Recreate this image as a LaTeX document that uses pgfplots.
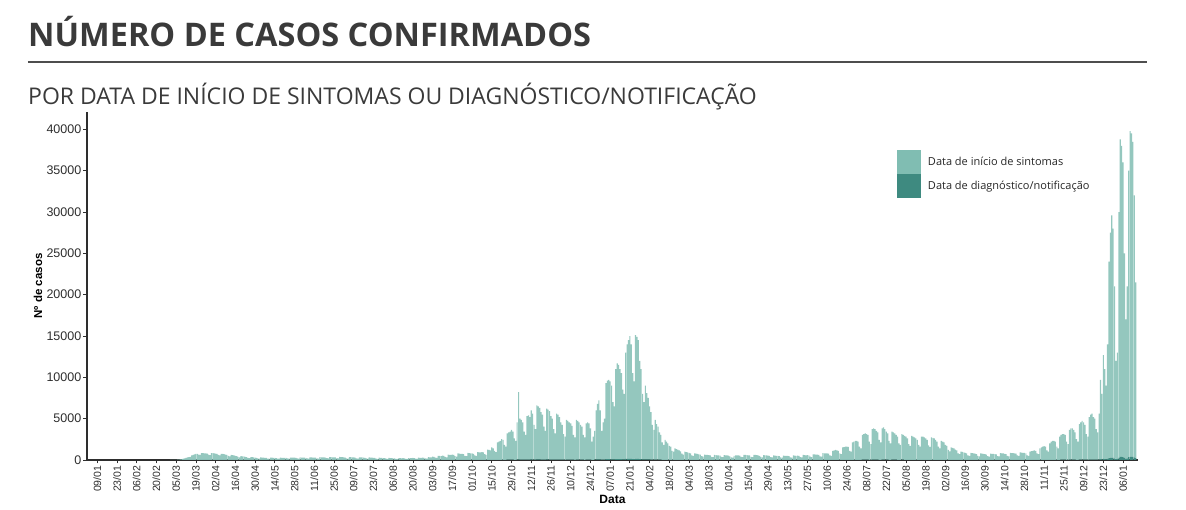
\documentclass[border=0pt]{standalone}
\usepackage{fontspec}
\setmainfont{Liberation Sans}
\newfontfamily\osfont{Open Sans}
\usepackage{pgfplots}
\usepackage{pgfplotstable}
\pgfplotsset{compat=1.18}
\definecolor{light}{HTML}{80BDB2}
\definecolor{barlight}{HTML}{94C7BE}
\definecolor{dark}{HTML}{3E8A80}
\definecolor{axc}{HTML}{2E2E2E}
\definecolor{ttl}{HTML}{3A3A3A}

\pgfplotstableread[row sep=\\]{
s\\
0\\0\\0\\0\\0\\0\\0\\
0\\0\\0\\0\\0\\0\\0\\
0\\0\\0\\0\\0\\0\\0\\
0\\0\\0\\0\\0\\0\\0\\
0\\0\\0\\0\\0\\0\\0\\
0\\0\\0\\0\\0\\0\\0\\
0\\0\\0\\0\\0\\0\\0\\
0\\0\\0\\2\\5\\8\\15\\
25\\40\\50\\60\\110\\150\\190\\
260\\320\\330\\380\\560\\620\\680\\
720\\740\\640\\600\\820\\830\\800\\
790\\760\\640\\590\\830\\810\\780\\
760\\720\\600\\550\\740\\720\\690\\
640\\600\\480\\430\\600\\580\\550\\
500\\470\\360\\320\\460\\440\\420\\
380\\350\\250\\220\\350\\330\\310\\
280\\240\\180\\160\\300\\290\\270\\
260\\240\\170\\150\\280\\270\\250\\
250\\230\\170\\150\\270\\260\\250\\
260\\240\\180\\160\\290\\280\\270\\
270\\250\\180\\160\\300\\290\\280\\
280\\260\\190\\170\\310\\300\\290\\
290\\270\\200\\170\\330\\320\\310\\
310\\290\\210\\180\\350\\340\\320\\
320\\300\\210\\180\\360\\340\\330\\
320\\290\\200\\170\\340\\330\\310\\
300\\280\\190\\160\\320\\310\\300\\
280\\260\\180\\150\\300\\290\\280\\
260\\240\\170\\140\\270\\260\\250\\
230\\210\\150\\130\\240\\230\\220\\
200\\190\\140\\120\\220\\210\\200\\
210\\200\\140\\120\\230\\220\\210\\
240\\220\\160\\140\\270\\260\\250\\
280\\260\\190\\160\\330\\320\\310\\
400\\380\\280\\250\\500\\480\\460\\
520\\500\\360\\320\\640\\620\\600\\
640\\620\\450\\400\\780\\760\\730\\
720\\690\\500\\450\\850\\830\\800\\
780\\740\\540\\480\\950\\920\\900\\
950\\900\\700\\620\\1250\\1200\\1150\\
1500\\1400\\1100\\950\\2100\\2200\\2300\\
2500\\2400\\1800\\1600\\3200\\3300\\3400\\
3600\\3400\\2600\\2300\\4500\\8118\\4950\\
4800\\4500\\3400\\3000\\5247\\5346\\5148\\
5940\\5544\\4200\\3700\\6534\\6435\\6237\\
5742\\5445\\4000\\3500\\6138\\6039\\5841\\
5247\\4950\\3700\\3200\\5544\\5445\\5148\\
4500\\4200\\3100\\2800\\4800\\4700\\4500\\
4400\\4100\\3000\\2700\\4800\\4700\\4500\\
4200\\4000\\3000\\2700\\4400\\4500\\4400\\
3800\\2200\\2800\\3500\\5940\\6732\\7128\\
5940\\3500\\4500\\4950\\9207\\9504\\9603\\
9405\\8910\\6930\\6435\\10890\\11583\\11385\\
10890\\10395\\8415\\7920\\12870\\13860\\14355\\
14850\\13860\\10395\\9405\\14949\\14751\\14355\\
11880\\10890\\7920\\6930\\8910\\8019\\7425\\
6435\\5742\\4200\\3600\\4800\\4300\\4000\\
3300\\3000\\2100\\1800\\2400\\2200\\2000\\
1700\\1600\\1100\\1000\\1400\\1300\\1240\\
1140\\1040\\750\\650\\1000\\940\\900\\
850\\800\\550\\480\\800\\760\\720\\
680\\640\\450\\400\\650\\620\\600\\
580\\550\\380\\340\\600\\580\\560\\
560\\530\\370\\330\\580\\560\\540\\
520\\430\\300\\280\\500\\560\\560\\
560\\530\\380\\340\\620\\600\\580\\
560\\540\\380\\340\\620\\600\\580\\
540\\500\\360\\320\\580\\560\\540\\
520\\480\\340\\300\\540\\520\\500\\
480\\450\\320\\290\\520\\500\\480\\
480\\450\\320\\290\\540\\520\\500\\
520\\490\\350\\310\\600\\580\\560\\
580\\550\\390\\350\\680\\660\\640\\
650\\620\\440\\400\\820\\800\\780\\
800\\760\\540\\480\\1100\\1150\\1200\\
1150\\1100\\800\\700\\1500\\1550\\1600\\
1600\\1560\\1100\\1000\\2100\\2200\\2300\\
2300\\2200\\1600\\1400\\3000\\3100\\3200\\
3100\\3000\\2200\\1900\\3700\\3800\\3700\\
3500\\3300\\2400\\2100\\3800\\3900\\3700\\
3400\\3200\\2300\\2000\\3400\\3300\\3200\\
3000\\2800\\2000\\1800\\3100\\3000\\2900\\
2800\\2600\\1900\\1700\\2900\\2800\\2700\\
2600\\2400\\1800\\1600\\2800\\2800\\2700\\
2600\\2400\\1760\\1560\\2700\\2660\\2600\\
2400\\2200\\1600\\1400\\2300\\2200\\2100\\
1800\\1700\\1200\\1040\\1500\\1440\\1400\\
1240\\1160\\800\\700\\1000\\960\\900\\
850\\800\\560\\500\\850\\820\\800\\
750\\700\\500\\440\\780\\760\\740\\
700\\650\\460\\410\\760\\740\\720\\
700\\660\\470\\420\\820\\800\\780\\
740\\700\\500\\440\\850\\830\\820\\
800\\760\\540\\480\\900\\880\\860\\
850\\800\\560\\500\\1000\\1050\\1100\\
1160\\1100\\800\\700\\1400\\1500\\1600\\
1660\\1600\\1160\\1000\\2000\\2200\\2300\\
2300\\2200\\1600\\1400\\2800\\3000\\3100\\
3100\\3000\\2200\\1900\\3600\\3800\\3800\\
3600\\3300\\2500\\2200\\4300\\4500\\4700\\
4500\\4200\\3100\\2800\\5148\\5445\\5544\\
5148\\4950\\3700\\3300\\5544\\9603\\7920\\
12573\\10890\\8910\\13860\\23760\\27225\\29304\\
27720\\20790\\11880\\12870\\29700\\38412\\37620\\
35640\\24750\\16830\\20790\\34650\\39402\\39105\\
38115\\31680\\21285\\
}\sdata

\pgfplotstableread[row sep=\\]{
d\\
0\\0\\0\\0\\0\\0\\0\\
0\\0\\0\\0\\0\\0\\0\\
0\\0\\0\\0\\0\\0\\0\\
0\\0\\0\\0\\0\\0\\0\\
0\\0\\0\\0\\0\\0\\0\\
0\\0\\0\\0\\0\\0\\0\\
0\\0\\0\\0\\0\\0\\0\\
0\\0\\0\\0\\0\\0\\0\\
0\\0\\0\\1\\1\\2\\2\\
3\\3\\3\\4\\6\\6\\7\\
7\\7\\6\\6\\8\\8\\8\\
8\\8\\6\\6\\8\\8\\8\\
8\\7\\6\\6\\7\\7\\7\\
6\\6\\5\\4\\6\\6\\6\\
5\\5\\4\\3\\5\\4\\4\\
4\\4\\3\\2\\4\\3\\3\\
3\\2\\2\\2\\3\\3\\3\\
3\\2\\2\\2\\3\\3\\3\\
3\\2\\2\\2\\3\\3\\3\\
3\\2\\2\\2\\3\\3\\3\\
3\\3\\2\\2\\3\\3\\3\\
3\\3\\2\\2\\3\\3\\3\\
3\\3\\2\\2\\3\\3\\3\\
3\\3\\2\\2\\4\\3\\3\\
3\\3\\2\\2\\4\\3\\3\\
3\\3\\2\\2\\3\\3\\3\\
3\\3\\2\\2\\3\\3\\3\\
3\\3\\2\\2\\3\\3\\3\\
3\\2\\2\\1\\3\\3\\3\\
2\\2\\2\\1\\2\\2\\2\\
2\\2\\1\\1\\2\\2\\2\\
2\\2\\1\\1\\2\\2\\2\\
2\\2\\2\\1\\3\\3\\3\\
3\\3\\2\\2\\3\\3\\3\\
4\\4\\3\\3\\5\\5\\5\\
5\\5\\4\\3\\6\\6\\6\\
6\\6\\5\\4\\8\\8\\7\\
7\\7\\5\\5\\9\\8\\8\\
8\\7\\5\\5\\10\\9\\9\\
10\\9\\7\\6\\13\\12\\12\\
15\\14\\11\\10\\21\\22\\23\\
25\\24\\18\\16\\32\\33\\34\\
36\\34\\26\\23\\45\\82\\50\\
48\\45\\34\\30\\53\\54\\52\\
60\\56\\42\\37\\66\\65\\63\\
58\\55\\40\\35\\62\\61\\59\\
53\\50\\37\\32\\56\\55\\52\\
45\\42\\31\\28\\48\\47\\45\\
44\\41\\30\\27\\48\\47\\45\\
42\\40\\30\\27\\44\\45\\44\\
38\\22\\28\\35\\60\\68\\72\\
60\\35\\45\\50\\93\\96\\97\\
95\\90\\70\\65\\110\\117\\115\\
110\\105\\85\\80\\130\\140\\145\\
150\\140\\105\\95\\151\\149\\145\\
120\\110\\80\\70\\90\\81\\75\\
65\\58\\42\\36\\48\\43\\40\\
33\\30\\21\\18\\24\\22\\20\\
17\\16\\11\\10\\14\\13\\12\\
11\\10\\8\\7\\10\\9\\9\\
9\\8\\6\\5\\8\\8\\7\\
7\\6\\5\\4\\7\\6\\6\\
6\\6\\4\\3\\6\\6\\6\\
6\\5\\4\\3\\6\\6\\5\\
5\\4\\3\\3\\5\\6\\6\\
6\\5\\4\\3\\6\\6\\6\\
6\\5\\4\\3\\6\\6\\6\\
5\\5\\4\\3\\6\\6\\5\\
5\\5\\3\\3\\5\\5\\5\\
5\\5\\3\\3\\5\\5\\5\\
5\\5\\3\\3\\5\\5\\5\\
5\\5\\4\\3\\6\\6\\6\\
6\\6\\4\\4\\7\\7\\6\\
7\\6\\4\\4\\8\\8\\8\\
8\\8\\5\\5\\11\\12\\12\\
12\\11\\8\\7\\15\\16\\16\\
16\\16\\11\\10\\21\\22\\23\\
23\\22\\16\\14\\30\\31\\32\\
31\\30\\22\\19\\37\\38\\37\\
35\\33\\24\\21\\38\\39\\37\\
34\\32\\23\\20\\34\\33\\32\\
30\\28\\20\\18\\31\\30\\29\\
28\\26\\19\\17\\29\\28\\27\\
26\\24\\18\\16\\28\\28\\27\\
26\\24\\18\\16\\27\\27\\26\\
24\\22\\16\\14\\23\\22\\21\\
18\\17\\12\\10\\15\\14\\14\\
12\\12\\8\\7\\10\\10\\9\\
9\\8\\6\\5\\9\\8\\8\\
8\\7\\5\\4\\8\\8\\7\\
7\\7\\5\\4\\8\\7\\7\\
7\\7\\5\\4\\8\\8\\8\\
7\\7\\5\\4\\9\\8\\8\\
8\\8\\5\\5\\9\\9\\9\\
9\\8\\6\\5\\10\\11\\11\\
12\\11\\8\\7\\14\\15\\16\\
17\\16\\12\\10\\20\\22\\23\\
23\\22\\16\\14\\28\\30\\31\\
31\\30\\22\\19\\36\\38\\38\\
36\\33\\25\\22\\43\\45\\47\\
45\\42\\31\\28\\52\\55\\56\\
52\\50\\37\\33\\56\\97\\80\\
127\\110\\90\\140\\240\\275\\296\\
280\\210\\120\\130\\300\\388\\380\\
360\\250\\170\\210\\350\\398\\395\\
385\\320\\215\\
}\ddata

\begin{document}
\begin{tikzpicture}
\useasboundingbox (-87pt,-50pt) rectangle (1099pt,460pt);
\node[anchor=base west, inner sep=0pt, text=ttl, font=\osfont\bfseries\fontsize{32.5}{32.5}\selectfont] at (-59pt,413pt) {NÚMERO DE CASOS CONFIRMADOS};
\draw[line width=2pt, draw=ttl!90] (-59pt,398pt) -- (1060pt,398pt);
\node[anchor=base west, inner sep=0pt, text=ttl, font=\osfont\fontsize{23}{23}\selectfont] at (-59pt,355pt) {POR DATA DE INÍCIO DE SINTOMAS OU DIAGNÓSTICO/NOTIFICAÇÃO};
\begin{axis}[
  name=ax, at={(0pt,0pt)}, anchor=south west,
  scale only axis, width=1051pt, height=348pt,
  xmin=-7.3, xmax=738.6, ymin=0, ymax=42100,
  ybar stacked, bar width=0.8,
  axis x line*=bottom, axis y line*=left,
  axis line style={draw=axc, line width=1.1pt},
  tick align=outside, major tick length=3.5pt,
  tick style={draw=axc, line width=0.8pt},
  scaled y ticks=false,
  ytick={0,5000,...,40000},
  xtick={0,14,...,728},
  xticklabels={09/01,23/01,06/02,20/02,05/03,19/03,02/04,16/04,30/04,14/05,28/05,11/06,25/06,09/07,23/07,06/08,20/08,03/09,17/09,01/10,15/10,29/10,12/11,26/11,10/12,24/12,07/01,21/01,04/02,18/02,04/03,18/03,01/04,15/04,29/04,13/05,27/05,10/06,24/06,08/07,22/07,05/08,19/08,02/09,16/09,30/09,14/10,28/10,11/11,25/11,09/12,23/12,06/01},
  x tick label style={rotate=90, anchor=east, font=\fontsize{10.5}{11}\selectfont, text=axc, inner sep=2pt},
  y tick label style={font=\fontsize{12.5}{13}\selectfont, text=axc, inner sep=2pt},
  /pgf/number format/1000 sep={},
  /pgf/number format/assume math mode=true,
  xlabel={Data}, ylabel={Nº de casos},
  xlabel style={font=\bfseries\fontsize{12}{12}\selectfont, text=black, inner sep=1pt},
  ylabel style={font=\bfseries\fontsize{11.5}{12}\selectfont, text=black, inner sep=2pt},
  reverse legend,
  legend cell align=left,
  legend style={at={(rel axis cs:0.7707,0.8908)}, anchor=north west, draw=none, fill=none,
    inner sep=0pt, outer sep=0pt, row sep=0pt,
    font=\osfont\fontsize{11}{12}\selectfont, text=black!85,
    nodes={inner sep=0pt, outer sep=0pt},
    /tikz/every odd column/.append style={column sep=7pt}},
]
\addplot[fill=dark, draw=none, legend image code/.code={\fill[dark] (0pt,-12pt) rectangle (24pt,12pt);}] table[x expr=\coordindex, y=d] {\ddata};
\addlegendentry{Data de diagnóstico/notificação}
\addplot[fill=barlight, draw=none, legend image code/.code={\fill[light] (0pt,-12pt) rectangle (24pt,12pt);}] table[x expr=\coordindex, y=s] {\sdata};
\addlegendentry{Data de início de sintomas}
\end{axis}
\end{tikzpicture}
\end{document}
